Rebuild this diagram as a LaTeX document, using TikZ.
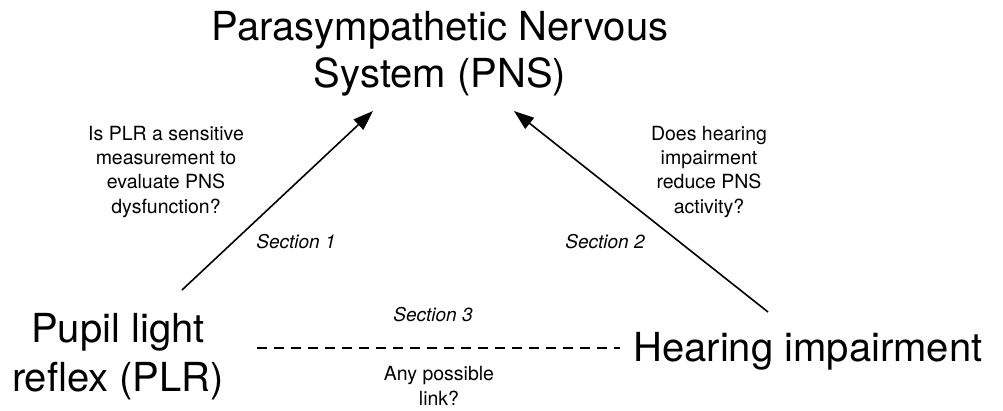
\documentclass[tikz,border=0pt]{standalone}
\usepackage{fontspec}
\setmainfont{TeX Gyre Heros}
\usetikzlibrary{arrows.meta}
\tikzset{
  big/.style={font=\fontsize{40}{47}\selectfont, inner sep=0pt, align=center, text=black},
  question/.style={font=\fontsize{19.5}{24.3}\selectfont, inner sep=0pt, align=center},
  sect/.style={font=\fontsize{19}{23}\selectfont\itshape, inner sep=0pt},
  arrow/.style={line width=1.6pt, -{Triangle[length=20pt,width=14pt]}},
  dashline/.style={line width=1.3pt, dash pattern=on 10pt off 7pt}
}
\begin{document}
\begin{tikzpicture}[x=1pt,y=-1pt]
\useasboundingbox (0,0) rectangle (1003,410);
\node[big, anchor=base] (pns) at (440,87) {Parasympathetic Nervous\\System (PNS)};
\node[big, anchor=base, font=\fontsize{40}{49}\selectfont] (plr) at (118,391) {Pupil light\\reflex (PLR)};
\node[big, anchor=base] (hi) at (808,361) {Hearing impairment};
\node[question, anchor=base] (q1) at (166,213) {Is PLR a sensitive\\measurement to\\evaluate PNS\\dysfunction?};
\node[question, anchor=base] (q2) at (709,213) {Does hearing\\impairment\\reduce PNS\\activity?};
\node[question, anchor=base] (q3) at (439,405) {Any possible\\link?};
\node[sect] (s1) at (296,242) {Section 1};
\node[sect] (s2) at (605,242) {Section 2};
\node[sect] (s3) at (433,315) {Section 3};
\coordinate (a1s) at (182,290);
\coordinate (a1e) at (373,111);
\coordinate (a2s) at (768,312);
\coordinate (a2e) at (514,111);
\coordinate (ds) at (257,348);
\coordinate (de) at (620,348);
\draw[arrow] (a1s) -- (a1e);
\draw[arrow] (a2s) -- (a2e);
\draw[dashline] (ds) -- (de);
\end{tikzpicture}
\end{document}
